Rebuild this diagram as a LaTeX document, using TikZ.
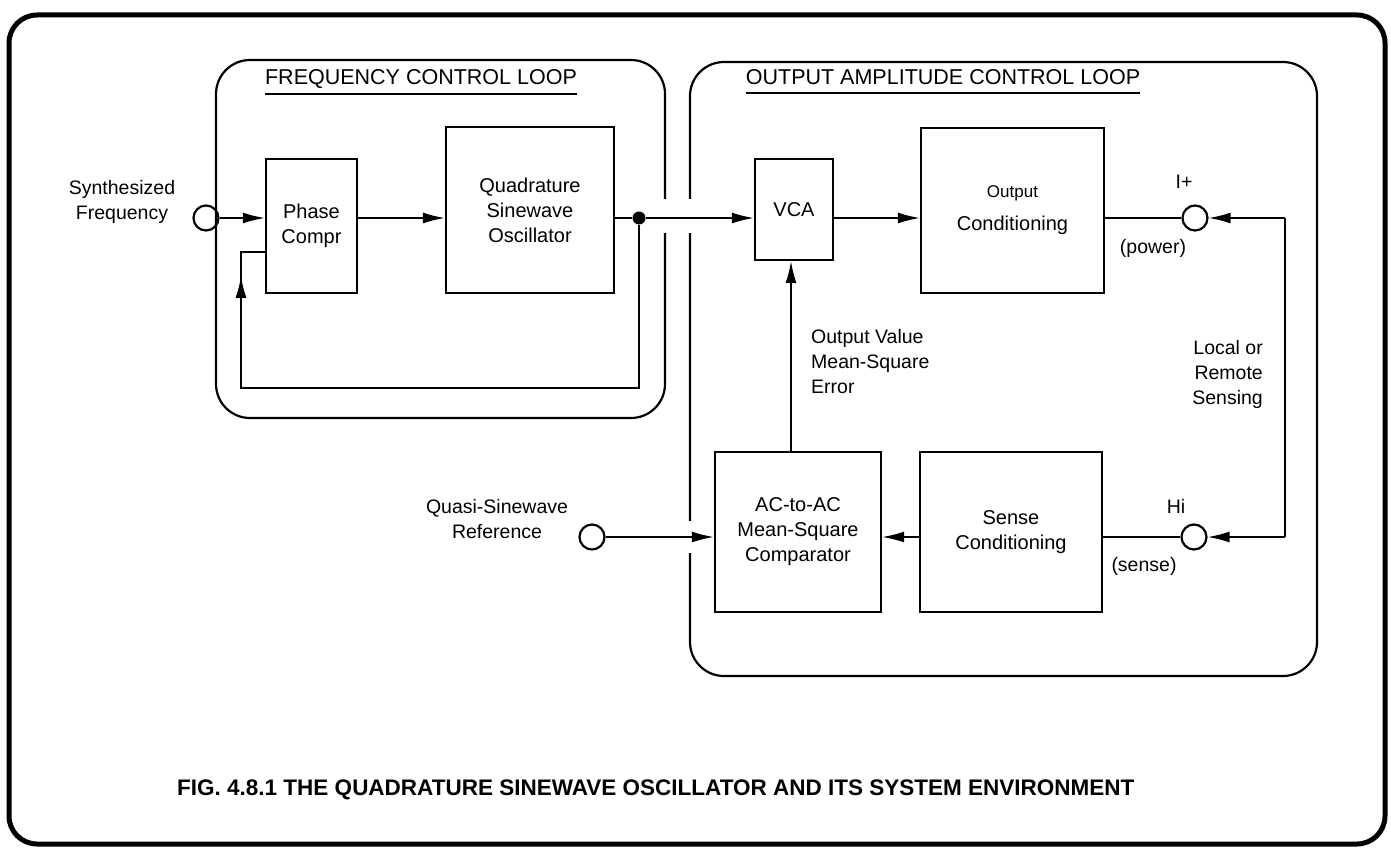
\documentclass[tikz,border=0pt]{standalone}
\usepackage{fontspec}
\setmainfont{Liberation Sans}
\usetikzlibrary{arrows.meta}
\begin{document}
\begin{tikzpicture}[x=1pt,y=-1pt,
  frame/.style={line width=5pt, rounded corners=28pt},
  loopbox/.style={line width=2.2pt, rounded corners=34pt},
  box/.style={draw, line width=2.2pt, inner sep=0pt, align=center, font=\fontsize{20}{25}\selectfont},
  wire/.style={line width=1.8pt},
  arr/.style={wire, -{Latex[length=22pt,width=11pt]}},
  term/.style={circle, draw, line width=2.2pt, minimum size=25pt, inner sep=0pt},
  lbl/.style={font=\fontsize{19.5}{25}\selectfont, inner sep=0pt},
  ttl/.style={font=\fontsize{21.5}{25}\selectfont, inner sep=0pt, anchor=base},
  uline/.style={line width=2pt}]
\useasboundingbox (0,0) rectangle (1391,848);
% outer frame and loop boxes
\draw[frame] (9,15) rectangle (1385,844);
\draw[loopbox] (216,60) rectangle (665,418);
\draw[loopbox] (690,62) rectangle (1317,676);
% titles
\node[ttl] (fcl) at (421,85) {FREQUENCY CONTROL LOOP};
\draw[uline] ([yshift=-9pt]fcl.base west) -- ([yshift=-9pt]fcl.base east);
\node[ttl] (oacl) at (943,85) {OUTPUT AMPLITUDE CONTROL LOOP};
\draw[uline] ([yshift=-8pt]oacl.base west) -- ([yshift=-8pt]oacl.base east);
% gaps in loop borders
\fill[white] (659,199) rectangle (671,233);
\fill[white] (684,199) rectangle (696,233);
\fill[white] (684,521) rectangle (696,553);
% blocks
\node[box, minimum width=91pt, minimum height=134pt] (pc) at (311.5,226) {Phase\\Compr};
\node[box, minimum width=168pt, minimum height=166pt] (qo) at (530,210) {Quadrature\\Sinewave\\Oscillator};
\node[box, minimum width=78pt, minimum height=101pt] (vca) at (794,209.5) {VCA};
\node[box, minimum width=183pt, minimum height=165pt] (oc) at (1012.5,210.5) {{\fontsize{17}{20}\selectfont Output}\\[8pt]Conditioning};
\node[box, minimum width=166pt, minimum height=160pt] (cmp) at (798,532) {AC-to-AC\\Mean-Square\\Comparator};
\node[box, minimum width=182pt, minimum height=160pt] (sc) at (1011,532) {Sense\\Conditioning};
% terminals
\node[term] (sf) at (206,218) {};
\node[term] (qs) at (592,537) {};
\node[term] (ip) at (1195,218) {};
\node[term] (hi) at (1194,537) {};
\node[circle, fill, minimum size=13pt, inner sep=0pt] (dot) at (639,218) {};
% labels
\node[lbl, align=center] (sfl) at (122,202) {Synthesized\\Frequency};
\node[lbl, align=center] (qsl) at (497,519) {Quasi-Sinewave\\Reference};
\node[lbl, align=left, anchor=west] (ovl) at (811,362) {Output Value\\Mean-Square\\Error};
\node[lbl, align=right, anchor=east] (rsl) at (1263,374) {Local or\\Remote\\Sensing};
\node[lbl] (ipl) at (1184,182) {I+};
\node[lbl] (pwl) at (1153,248) {(power)};
\node[lbl] (hil) at (1176,506) {Hi};
\node[lbl] (snl) at (1144,566) {(sense)};
\node[font=\bfseries\fontsize{22.5}{25}\selectfont, inner sep=0pt, anchor=base west] (cap) at (177,795)
  {FIG. 4.8.1 THE QUADRATURE SINEWAVE OSCILLATOR AND ITS SYSTEM ENVIRONMENT};
% coordinates
\coordinate (fbc) at (241,388);
\coordinate (fbt) at (241,252);
\coordinate (fba) at (241,302);
\coordinate (fbb) at (241,276);
\coordinate (rst) at (1285,218);
\coordinate (rsb) at (1285,537);
% connectors
\draw[arr] (sf.east) -- (sf.east -| pc.west);
\draw[arr] (pc.east |- sf) -- (qo.west |- sf);
\draw[wire] (qo.east |- dot) -- (dot);
\draw[arr] (dot) -- (vca.west |- dot);
\draw[wire] (dot) -- (dot |- fbc) -- (fbc) -- (fbt) -- (pc.west |- fbt);
\draw[arr] (fba) -- (fbb);
\draw[arr] (vca.east |- dot) -- (oc.west |- dot);
\draw[wire] (oc.east |- ip) -- (ip.west);
\draw[arr] (rst) -- (ip.east);
\draw[wire] (rst) -- (rsb);
\draw[arr] (rsb) -- (hi.east);
\draw[wire] (sc.east |- hi) -- (hi.west);
\draw[arr] (sc.west |- hi) -- (cmp.east |- hi);
\draw[arr] (qs.east) -- (qs.east -| cmp.west);
\draw[arr] (cmp.north -| 791,0) -- (vca.south -| 791,0);
\end{tikzpicture}
\end{document}
